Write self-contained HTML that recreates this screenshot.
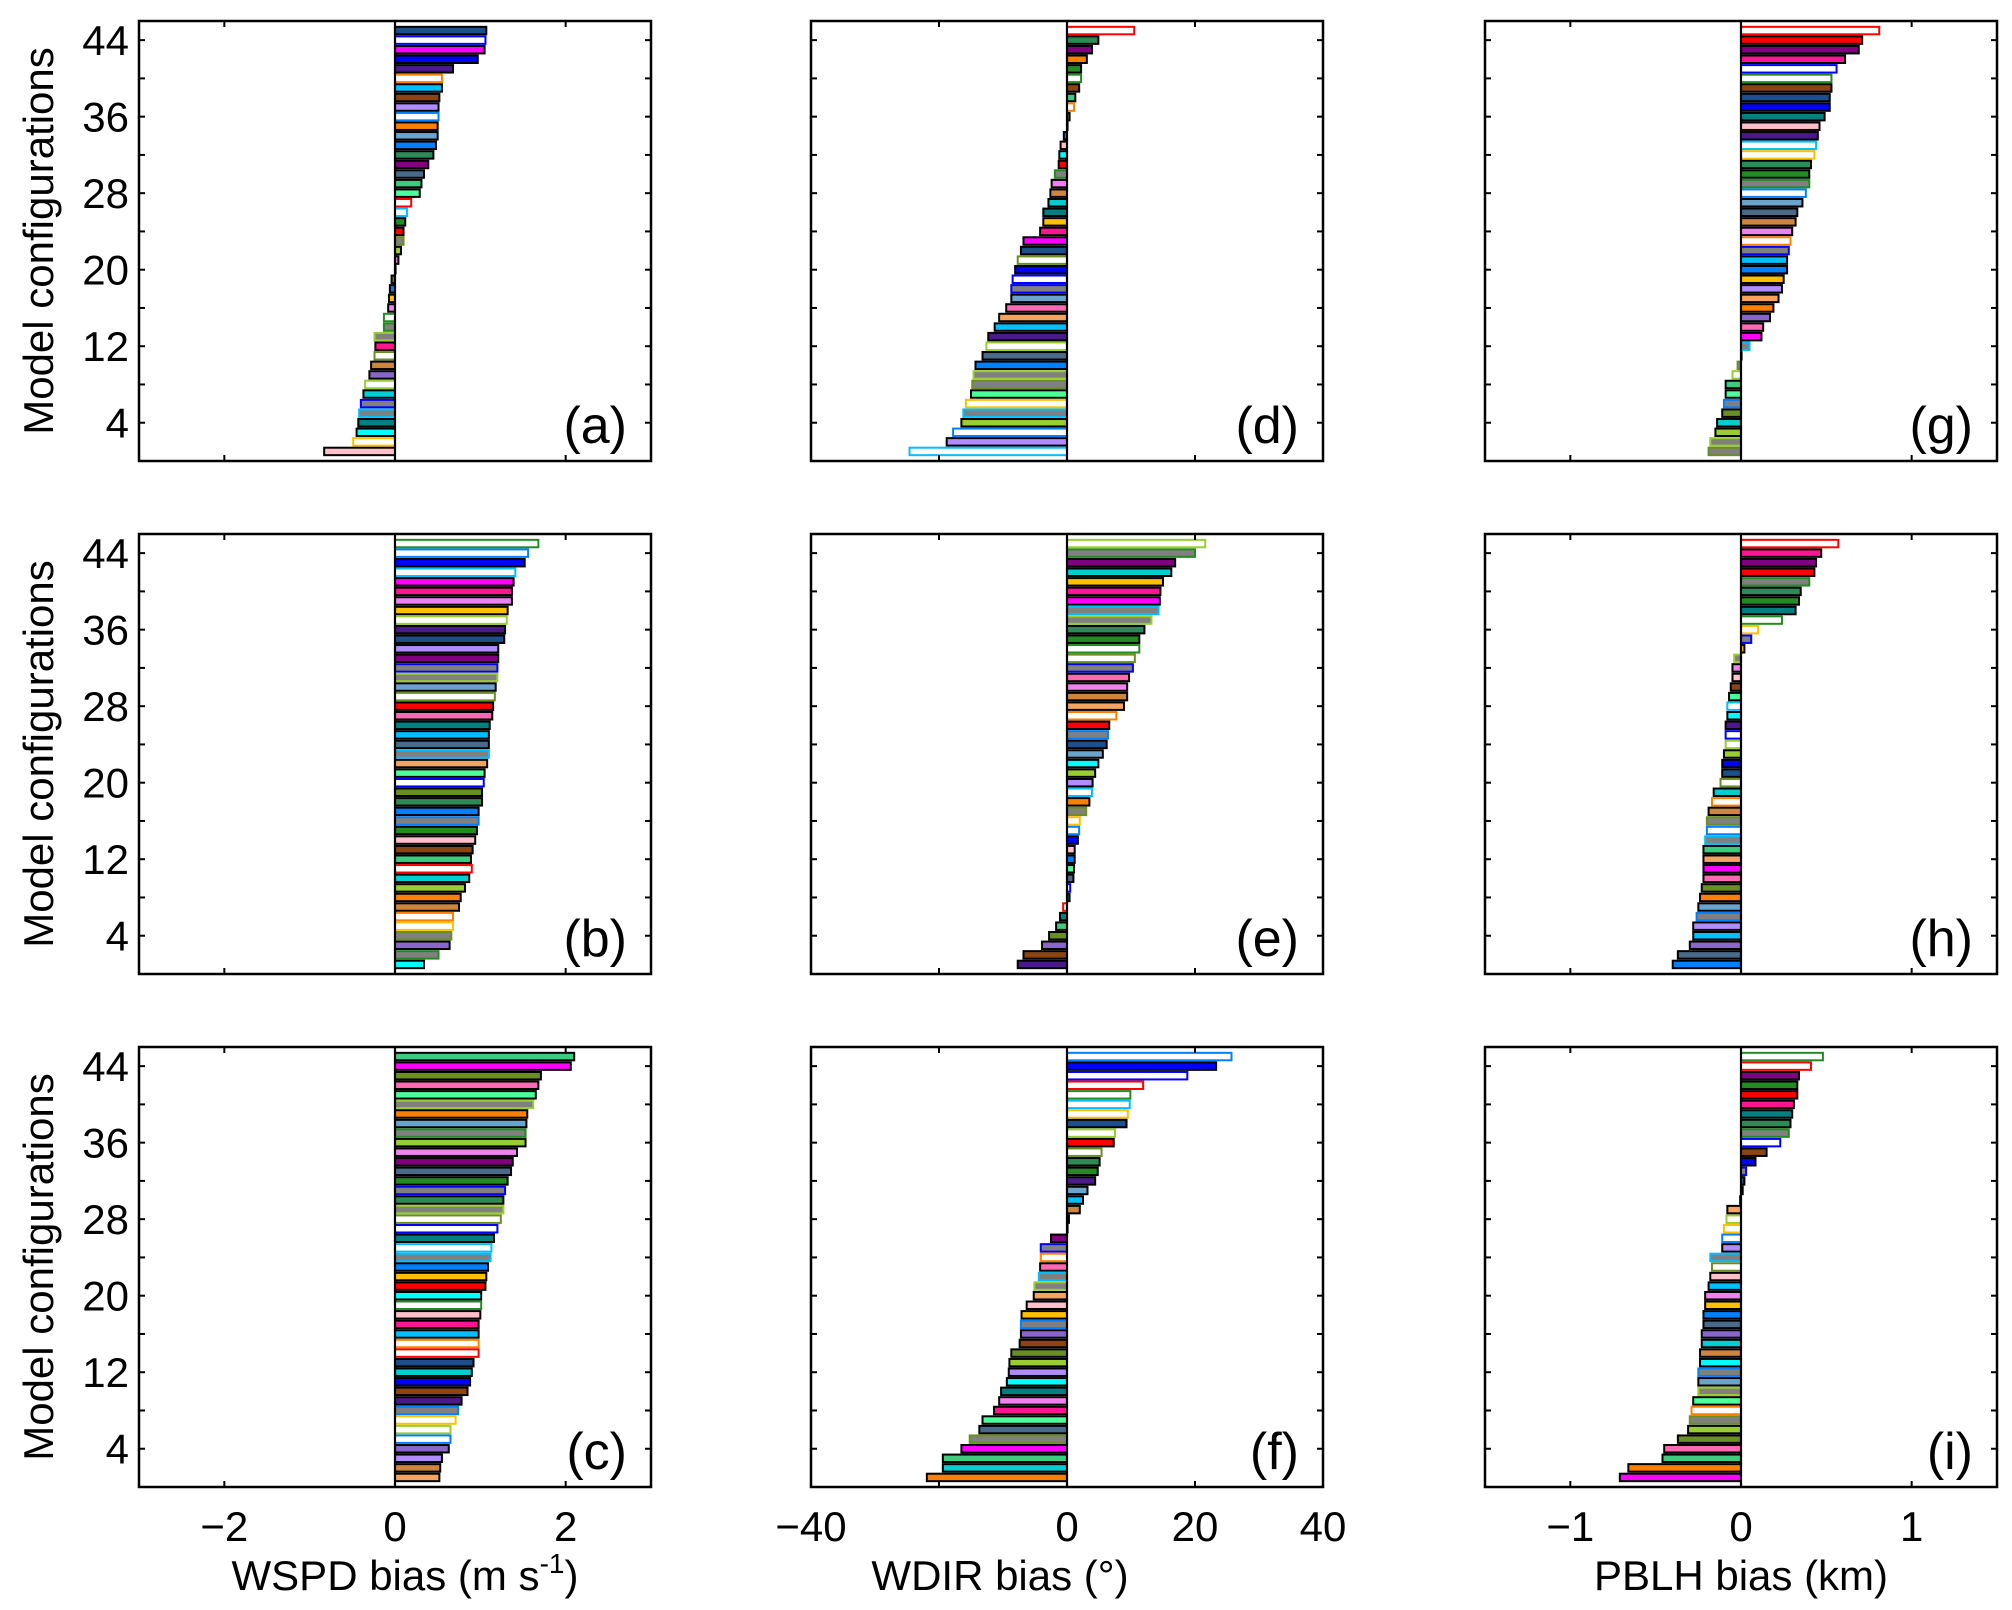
<!DOCTYPE html>
<html><head><meta charset="utf-8"><style>
html,body{margin:0;padding:0;background:#fff;}
svg{display:block;font-family:"Liberation Sans",Arial,sans-serif;}
</style></head><body>
<svg id="fig" width="2012" height="1610" viewBox="0 0 2012 1610" xmlns="http://www.w3.org/2000/svg"></svg>
<script>
// Values listed from configuration 45 (top) down to configuration 1 (bottom)
const valsA=[1.07,1.06,1.05,0.97,0.68,0.55,0.55,0.52,0.51,0.51,0.50,0.50,0.48,0.45,0.39,0.34,0.31,0.29,0.19,0.14,0.12,0.10,0.10,0.07,0.04,0.005,-0.04,-0.06,-0.07,-0.08,-0.13,-0.13,-0.24,-0.23,-0.24,-0.28,-0.30,-0.35,-0.37,-0.40,-0.42,-0.43,-0.45,-0.49,-0.83];
const valsB=[1.68,1.56,1.52,1.41,1.39,1.37,1.37,1.32,1.31,1.29,1.28,1.21,1.21,1.20,1.20,1.18,1.17,1.15,1.14,1.11,1.10,1.10,1.10,1.08,1.05,1.04,1.02,1.02,0.98,0.98,0.96,0.94,0.91,0.89,0.90,0.87,0.82,0.77,0.75,0.68,0.68,0.66,0.64,0.51,0.34];
const valsC=[2.10,2.06,1.71,1.68,1.65,1.62,1.55,1.54,1.53,1.53,1.43,1.38,1.36,1.32,1.29,1.27,1.27,1.24,1.20,1.16,1.13,1.12,1.09,1.07,1.06,1.01,1.01,1.00,0.98,0.98,0.98,0.98,0.92,0.90,0.88,0.85,0.78,0.74,0.71,0.65,0.65,0.63,0.55,0.53,0.52];
const valsD=[10.5,4.9,3.9,3.1,2.2,2.2,1.9,1.3,1.1,0.4,0.05,-0.5,-1.0,-1.2,-1.3,-1.9,-2.4,-2.6,-2.9,-3.7,-3.7,-4.2,-6.8,-7.2,-7.7,-8.1,-8.5,-8.7,-8.7,-9.5,-10.6,-11.3,-12.3,-12.6,-13.2,-14.3,-14.6,-14.8,-15.0,-15.8,-16.2,-16.5,-17.8,-18.8,-24.6];
const valsE=[21.6,20.0,16.9,16.3,15.0,14.6,14.5,14.3,13.2,12.1,11.3,11.3,10.6,10.3,9.7,9.4,9.4,8.9,7.7,6.6,6.4,6.2,5.6,4.9,4.4,4.0,3.9,3.5,3.0,2.0,1.9,1.7,1.2,1.2,1.1,1.0,0.5,0.4,-0.6,-1.1,-1.7,-2.8,-3.9,-6.8,-7.7];
const valsF=[25.7,23.3,18.8,11.9,9.9,9.8,9.5,9.3,7.5,7.3,5.4,5.1,4.8,4.4,3.2,2.5,2.0,0.3,0,-2.5,-4.1,-4.1,-4.2,-4.4,-5.1,-5.2,-6.3,-7.1,-7.2,-7.2,-7.4,-8.7,-9.0,-9.1,-9.4,-10.3,-10.6,-11.4,-13.2,-13.7,-15.2,-16.5,-19.4,-19.4,-21.9];
const valsG=[0.81,0.71,0.69,0.61,0.56,0.53,0.53,0.52,0.52,0.49,0.46,0.45,0.44,0.43,0.41,0.40,0.40,0.38,0.36,0.33,0.32,0.30,0.29,0.28,0.27,0.27,0.25,0.24,0.22,0.19,0.17,0.13,0.12,0.05,0,-0.02,-0.05,-0.09,-0.09,-0.10,-0.11,-0.14,-0.15,-0.18,-0.19];
const valsH=[0.57,0.47,0.44,0.43,0.40,0.35,0.34,0.32,0.24,0.10,0.06,0.02,-0.04,-0.05,-0.05,-0.06,-0.07,-0.08,-0.08,-0.09,-0.09,-0.09,-0.10,-0.11,-0.11,-0.12,-0.16,-0.17,-0.19,-0.20,-0.20,-0.21,-0.22,-0.22,-0.22,-0.22,-0.23,-0.24,-0.25,-0.26,-0.28,-0.28,-0.30,-0.37,-0.40];
const valsI=[0.48,0.41,0.34,0.33,0.33,0.31,0.30,0.29,0.28,0.23,0.15,0.085,0.03,0.02,0.01,-0.005,-0.08,-0.085,-0.10,-0.11,-0.11,-0.18,-0.17,-0.18,-0.19,-0.21,-0.21,-0.22,-0.22,-0.23,-0.23,-0.24,-0.24,-0.25,-0.25,-0.25,-0.28,-0.29,-0.30,-0.31,-0.37,-0.45,-0.46,-0.66,-0.71];

const colsA="f:dblue w:blue f:magenta f:blue f:indigo w:orange f:lb f:brown f:lav w:dodger f:orange f:steel f:dodger f:sea f:purple f:slate f:mseagreen f:lgreen w:red w:lb f:dgreen f:red g:olive f:yg f:violet f:black f:olive f:dodger f:gold f:violet w:green g:green g:yg f:dpink w:olive f:peru f:mpurple w:yg f:dturq g:blue g:lb f:teal f:cyan w:gold f:pink".split(" ");
const colsB="w:green w:dodger f:blue w:lb f:magenta f:dpink f:violet f:gold w:yg f:indigo f:dblue f:lav f:purple g:blue g:yg f:steel w:olive f:red f:hotpink f:teal f:lb f:slate g:lb f:sandy f:lgreen w:blue f:olive f:sea f:dodger g:dodger f:dgreen f:pink f:brown f:mseagreen w:red f:dturq f:yg f:orange f:peru w:orange w:gold g:olive f:mpurple g:green f:cyan".split(" ");
const colsC="f:mseagreen f:magenta f:olive f:hotpink f:lgreen g:yg f:orange f:steel g:green f:yg f:violet f:purple f:slate f:dgreen g:blue f:sea g:yg w:olive w:blue f:teal w:lb g:lb f:dodger f:gold f:red f:cyan w:green f:pink f:dpink f:lb w:orange w:red f:dblue f:dturq f:blue f:brown f:indigo g:dodger w:gold w:yg w:dodger f:mpurple f:lav f:peru f:sandy".split(" ");
const colsD="w:red f:sea f:purple f:orange f:dgreen w:green f:brown f:mseagreen w:orange f:olive f:black f:dodger f:pink f:cyan f:red g:green f:violet f:peru f:dturq f:teal f:gold f:dpink f:magenta f:dblue w:olive f:blue w:blue g:blue f:steel f:hotpink f:sandy f:lb f:indigo w:yg f:slate f:dodger g:yg g:olive f:lgreen w:gold g:lb f:yg w:dodger f:lav w:lb".split(" ");
const colsE="w:yg g:green f:purple f:dturq f:gold f:dpink f:magenta g:lb g:yg f:sea f:dgreen w:green w:olive g:blue f:hotpink f:violet f:peru f:sandy w:orange f:red g:dodger f:dblue f:steel f:cyan f:yg f:lav w:lb f:orange g:olive w:gold w:dodger f:blue f:pink f:dodger f:lgreen f:slate w:blue f:teal w:red f:teal f:mseagreen f:olive f:mpurple f:brown f:indigo".split(" ");
const colsF="w:dodger f:blue w:blue w:red w:green w:lb w:gold f:dblue w:yg f:red w:olive f:sea f:dgreen f:indigo f:steel f:lb f:peru f:dgreen f:black f:purple g:blue w:orange f:hotpink g:lb g:yg f:sandy f:pink f:gold g:dodger f:mpurple f:brown f:olive f:yg f:lav f:cyan f:teal f:violet f:dpink f:lgreen f:slate g:olive f:magenta f:mseagreen f:dturq f:orange".split(" ");
const colsG="w:red f:red f:purple f:dpink w:blue w:green f:brown f:dblue f:blue f:teal f:pink f:indigo w:lb w:gold f:sea f:dgreen g:green w:dodger f:steel f:slate f:peru f:violet w:orange g:blue f:lb f:dodger f:gold f:lav f:sandy f:orange f:mpurple f:hotpink f:magenta g:lb f:black g:olive w:yg f:mseagreen f:lgreen g:dodger f:olive f:dturq f:yg g:yg g:olive".split(" ");
const colsH="w:red f:dpink f:purple f:red g:green f:sea f:dgreen f:teal w:green w:gold g:blue f:gold g:yg f:violet f:pink f:brown f:lgreen w:lb f:cyan f:indigo w:blue w:yg f:yg f:blue f:dblue w:olive f:dturq w:orange f:peru g:olive w:dodger g:lb f:mseagreen f:sandy f:magenta f:hotpink f:olive f:orange f:steel g:dodger f:lav f:lb f:mpurple f:slate f:dodger".split(" ");
const colsI="w:green w:red f:purple f:dgreen f:red f:dpink f:teal f:sea g:green w:blue f:brown f:blue g:blue f:dblue f:black f:lb f:sandy w:yg w:gold w:dodger f:lav g:lb w:olive f:pink f:lb f:violet f:gold f:dodger f:slate f:mpurple f:dturq f:peru f:cyan g:dodger f:steel g:yg f:lgreen w:orange g:olive f:yg f:olive f:hotpink f:mseagreen f:orange f:magenta".split(" ");

const wspdTicks=[-2,0,2];
const wdirTicks=[-40,-20,0,20,40];
const wdirLabels=[-40,0,20,40];
const pblhTicks=[-1,0,1];
const yTicks=[4,8,12,16,20,24,28,32,36,40,44];
const yLabels=[4,12,20,28,36,44];

const PAL={dblue:"#1c4f8c",blue:"#0000ff",magenta:"#ff00ff",indigo:"#4b1a8a",orange:"#ff8000",lb:"#00bfff",brown:"#8b4513",lav:"#b08cff",dodger:"#0080ff",steel:"#6aa4cc",sea:"#2e8b57",purple:"#800080",slate:"#4a6a8a",mseagreen:"#3ccc80",lgreen:"#4cff99",red:"#ff0000",dgreen:"#228b22",green:"#228b22",olive:"#6b8e23",yg:"#9acd32",violet:"#ee82ee",black:"#000",gold:"#ffc000",dpink:"#ff1493",peru:"#cd853f",mpurple:"#8866cc",dturq:"#00ced1",teal:"#008080",cyan:"#00ffff",pink:"#ffc0cb",hotpink:"#ff69b4",sandy:"#f4a460"};

const NS="http://www.w3.org/2000/svg";
const svg=document.getElementById('fig');
function mk(tag,attrs,parent){const e=document.createElementNS(NS,tag);for(const k in attrs)e.setAttribute(k,attrs[k]);(parent||svg).appendChild(e);return e;}
function fmt(v){return v<0?"\u2212"+Math.abs(v):String(v);}

const colX=[139,811,1485], W=512, rowY=[21,534,1047], H=440;
const panels=[
 {id:"a",c:0,r:0,vals:valsA,cols:colsA,dom:[-3,3],ticks:wspdTicks},
 {id:"b",c:0,r:1,vals:valsB,cols:colsB,dom:[-3,3],ticks:wspdTicks},
 {id:"c",c:0,r:2,vals:valsC,cols:colsC,dom:[-3,3],ticks:wspdTicks,labels:wspdTicks},
 {id:"d",c:1,r:0,vals:valsD,cols:colsD,dom:[-40,40],ticks:wdirTicks},
 {id:"e",c:1,r:1,vals:valsE,cols:colsE,dom:[-40,40],ticks:wdirTicks},
 {id:"f",c:1,r:2,vals:valsF,cols:colsF,dom:[-40,40],ticks:wdirTicks,labels:wdirTicks},
 {id:"g",c:2,r:0,vals:valsG,cols:colsG,dom:[-1.5,1.5],ticks:pblhTicks},
 {id:"h",c:2,r:1,vals:valsH,cols:colsH,dom:[-1.5,1.5],ticks:pblhTicks},
 {id:"i",c:2,r:2,vals:valsI,cols:colsI,dom:[-1.5,1.5],ticks:pblhTicks,labels:pblhTicks}
];
panels.forEach(p=>{
  const x0=colX[p.c], y0=rowY[p.r];
  const g=mk('g',{});
  
  
  const xs=v=>x0+(v-p.dom[0])/(p.dom[1]-p.dom[0])*W;
  const ys=v=>y0+H-(v/46)*H;
  const n=p.vals.length;
  p.vals.forEach((v,i)=>{
    const cfg=n-i;
    const [kind,cn]=p.cols[i].split(":");
    const col=PAL[cn]||"#888";
    let fill,stroke;
    if(kind==="f"){fill=col;stroke="#000";}
    else if(kind==="w"){fill="#fff";stroke=col;}
    else{fill="#808080";stroke=col;}
    const xa=xs(Math.min(0,v)), xb=xs(Math.max(0,v));
    const r=mk('rect',{x:xa,y:ys(cfg+0.39),width:Math.max(xb-xa,0.6),height:ys(cfg-0.39)-ys(cfg+0.39),fill:fill,stroke:stroke,'stroke-width':2},g);
    
    
  });
  const z=mk('line',{x1:xs(0),x2:xs(0),y1:y0,y2:y0+H,stroke:"#000",'stroke-width':2.2},g);
  
  
  const f=mk('rect',{x:x0,y:y0,width:W,height:H,fill:"none",stroke:"#000",'stroke-width':2.5},g);
  
  
  yTicks.forEach(t=>{
    mk('line',{x1:x0,x2:x0+6,y1:ys(t),y2:ys(t),stroke:"#000",'stroke-width':2},g);
    mk('line',{x1:x0+W-6,x2:x0+W,y1:ys(t),y2:ys(t),stroke:"#000",'stroke-width':2},g);
  });
  p.ticks.forEach(t=>{
    mk('line',{x1:xs(t),x2:xs(t),y1:y0,y2:y0+6,stroke:"#000",'stroke-width':2},g);
    mk('line',{x1:xs(t),x2:xs(t),y1:y0+H-6,y2:y0+H,stroke:"#000",'stroke-width':2},g);
  });
  if(p.c===0){
    yLabels.forEach(t=>{
      const tx=mk('text',{x:x0-10,y:ys(t)+15,'text-anchor':'end','font-size':42},g);
      tx.textContent=t;
      
      
    });
    const yl=mk('text',{x:0,y:0,'text-anchor':'middle','font-size':42,transform:`translate(53,${y0+H/2}) rotate(-90)`},g);
    yl.textContent="Model configurations";
    
    
  }
  if(p.labels){
    const labs=p.c===1?wdirLabels:p.labels;
    labs.forEach(t=>{
      const tx=mk('text',{x:xs(t),y:y0+H+54,'text-anchor':'middle','font-size':42},g);
      tx.textContent=fmt(t);
      
      
    });
  }
  const pl=mk('text',{x:x0+W-24,y:y0+H-18,'text-anchor':'end','font-size':52},g);
  pl.textContent="("+p.id+")";
  
  
});
const t1=mk('text',{x:405,y:1590,'text-anchor':'middle','font-size':42});
t1.innerHTML='WSPD bias (m s<tspan font-size="28" dy="-17">-1</tspan><tspan dy="17">)</tspan>';


const t2=mk('text',{x:1000,y:1590,'text-anchor':'middle','font-size':42});
t2.textContent="WDIR bias (\u00b0)";


const t3=mk('text',{x:1741,y:1590,'text-anchor':'middle','font-size':42});
t3.textContent="PBLH bias (km)";


</script>
</body></html>
